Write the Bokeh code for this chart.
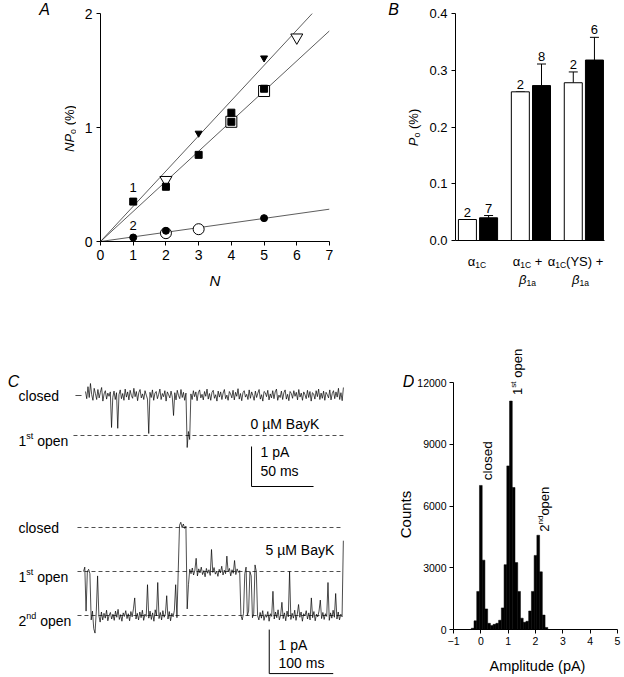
import math
from bokeh.plotting import figure
from bokeh.models import Label, Whisker, ColumnDataSource, TeeHead, PrintfTickFormatter
from bokeh.layouts import row, column
from bokeh.embed import file_html
from bokeh.resources import INLINE

FONT = "Liberation Sans"

# ---------------- Panel A data ----------------
sq_filled_n = [1, 2, 3, 4, 4, 5]
sq_filled_v = [0.35, 0.48, 0.76, 1.13, 1.05, 1.34]
sq_open_n = [4, 5]
sq_open_v = [1.05, 1.32]
tri_filled_n = [3, 5]
tri_filled_v = [0.95, 1.61]
tri_open_n = [2, 6]
tri_open_v = [0.54, 1.79]
circ_filled_n = [1, 2, 5]
circ_filled_v = [0.035, 0.094, 0.205]
circ_open_n = [2, 3]
circ_open_v = [0.073, 0.108]
fit_slope = [0.309, 0.264, 0.0405]
fit_nmax = [6.48, 7.0, 7.0]

# ---------------- Panel B data ----------------
groups = [0, 1, 2]
po_open = [0.037, 0.262, 0.278]
po_open_err = [0.037, 0.262, 0.297]
po_filled = [0.040, 0.273, 0.318]
po_filled_err = [0.044, 0.311, 0.358]
n_open = ["2", "2", "2"]
n_filled = ["7", "8", "6"]

# ---------------- Panel C data (pA, sampled) ----------------
top_dt_ms = 1.0
top_trace = [
    0.10, -0.08, 0.22, -0.05, 0.30, 0.02, -0.12, 0.18, 0.05, -0.10,
    0.15, -0.06, 0.08, 0.20, -0.14, 0.04, 0.12, -0.09, 0.06, -0.02,
    0.09, -0.80, -0.05, 0.11, -0.10, 0.07, -0.82, 0.02, 0.14, -0.08,
    0.05, -0.12, 0.16, -0.04, 0.09, -0.11, 0.13, 0.00, -0.07, 0.18,
    -0.03, 0.10, -0.13, 0.07, 0.15, -0.06, 0.04, -0.10, 0.12, 0.01,
    -0.09, -0.95, 0.08, -0.05, 0.14, -0.12, 0.06, 0.10, -0.08, 0.03,
    0.16, -0.10, 0.05, -0.03, 0.12, -0.14, 0.09, 0.02, -0.06, 0.11,
    -0.04, -0.50, 0.07, -0.11, 0.13, 0.00, -0.08, 0.15, -0.05, 0.08,
    -0.12, 0.06, -1.30, -0.90, -1.10, 0.04, -0.10, 0.12, -0.03, 0.09,
    -0.13, 0.07, 0.14, -0.06, 0.03, -0.11, 0.10, -0.02, 0.16, -0.09,
    0.05, -0.12, 0.08, 0.13, -0.07, 0.02, -0.14, 0.11, -0.04, 0.09,
    -0.10, 0.06, 0.15, -0.08, 0.01, -0.12, 0.10, 0.04, -0.06, 0.13,
    -0.11, 0.08, -0.02, 0.17, -0.09, 0.05, -0.13, 0.07, 0.12, -0.04,
    0.03, -0.10, 0.14, -0.07, 0.09, 0.00, -0.12, 0.11, -0.05, 0.06,
    0.15, -0.09, 0.02, -0.14, 0.10, 0.07, -0.03, 0.13, -0.11, 0.04,
    -0.06, 0.12, -0.08, 0.09, 0.16, -0.12, 0.01, -0.05, 0.11, -0.10,
    0.07, 0.14, -0.09, 0.03, -0.13, 0.10, 0.05, -0.07, 0.12, -0.02,
    0.08, -0.11, 0.15, -0.04, 0.06, -0.12, 0.09, 0.02, -0.08, 0.13,
    -0.05, 0.10, -0.14, 0.07, 0.04, -0.09, 0.12, -0.03, 0.16, -0.10,
    0.06, -0.07, 0.11, -0.12, 0.08, 0.02, -0.06, 0.14, -0.11, 0.05,
    0.12, -0.08, 0.09, -0.04, 0.18, -0.10, 0.07, -0.13, 0.20,
]
bot_dt_ms = 2.0
bot_trace = [
    -1.00, -0.90, -1.90, -1.00, -0.95, -1.05, -2.10, -1.90, -2.30, -2.40, -1.90, -1.10, -2.00, -2.15,
    -1.92, -2.10, -1.95, -2.06, -1.88, -2.12, -2.00, -1.93, -2.08, -1.97,
    -2.11, -1.90, -2.04, -1.86, -2.09, -1.98, -2.13, -1.94, -2.02, -1.89,
    -2.07, -1.96, -2.12, -1.91, -2.03, -1.85, -1.60, -2.08, -1.95, -2.10,
    -1.92, -2.05, -1.88, -2.11, -1.97, -2.02, -1.30, -2.06, -1.90, -2.09,
    -1.94, -2.13, -1.87, -2.01, -1.25, -2.07, -1.93, -2.10, -1.89, -2.04,
    -1.96, -1.55, -2.08, -1.91, -2.12, -1.95, -2.03, -1.88, -1.30, -2.05,
    -1.00, 0.05, 0.12, 0.00, 0.08, -0.02, 0.03, -1.85, -1.30, -0.95,
    -1.05, -0.92, -1.08, -0.97, -0.70, -1.10, -0.94, -1.03, -0.90, -1.07,
    -0.98, -1.12, -0.93, -1.04, -0.96, -1.09, -0.50, -1.02, -0.91, -1.06,
    -0.99, -1.11, -0.95, -1.03, -0.88, -1.08, -0.97, -1.05, -0.65, -1.01,
    -0.93, -1.10, -0.96, -1.04, -0.75, -1.07, -0.94, -1.02, -0.98,
    -2.00, -2.10, -1.95, -1.05, -0.90, -2.00, -1.90, -1.00, -1.10, -2.05, -1.95, -0.85, -1.00, -2.00, -2.10,
    -1.93, -2.06, -1.89, -2.11, -1.98, -2.04, -1.91, -2.13, -1.96, -2.02,
    -1.45, -2.08, -1.92, -2.05, -1.87, -2.10, -1.99, -1.70, -2.07, -1.94,
    -2.12, -1.90, -2.03, -1.00, -2.09, -1.95, -2.06, -1.88, -2.11, -1.97,
    -1.75, -2.04, -1.92, -2.13, -1.96, -2.01, -1.89, -2.08, -1.94, -2.10,
    -1.60, -2.05, -1.91, -2.12, -1.97, -2.03, -1.90, -1.65, -2.07, -1.93,
    -2.09, -1.96, -2.02, -1.25, -2.11, -1.94, -2.06, -1.88, -2.04, -1.50,
    -2.08, -1.92, -2.10, -1.97, -2.03, -0.30,
]
levels_pA = [0.0, -1.0, -2.0]

# ---------------- Panel D data ----------------
amp_bins = [-0.3, -0.2, -0.1, 0.0, 0.1, 0.2, 0.3, 0.4, 0.5, 0.6, 0.7, 0.8, 0.9, 1.0,
            1.1, 1.2, 1.3, 1.4, 1.5, 1.6, 1.7, 1.8, 1.9, 2.0, 2.1, 2.2, 2.3, 2.4]
counts = [60, 420, 1850, 7000, 3370, 1000, 300, 200, 250, 300, 450, 1050, 3150, 7950,
          11100, 6900, 3250, 1850, 550, 350, 400, 900, 1850, 3600, 4580, 2800, 700, 100]

# ---------------- helpers ----------------
W = {' ': .278, '(': .333, ')': .333, '%': .889, '+': .584, 'A': .667, 'B': .667, 'C': .722,
     'K': .667, 'M': .833, 'N': .722, 'P': .667, 'S': .667, 'Y': .667, 'a': .556, 'c': .5,
     'd': .556, 'e': .556, 'l': .222, 'n': .556, 'o': .556, 'p': .556, 's': .5, 't': .278,
     'y': .5, 'i': .222, 'm': .833, 'u': .556, 'α': .578, 'β': .575, 'µ': .556}


def tw(s, size):
    return sum(W.get(c, 0.556) for c in s) * size


def rich(p, x, y, parts, angle=0.0, align="left", x_off=0.0, y_off=0.0):
    total = sum(tw(t, s) for t, s, st, r in parts)
    adv = -total / 2 if align == "center" else 0.0
    ca, sa = math.cos(angle), math.sin(angle)
    for t, s, st, r in parts:
        stripped = t.lstrip(" ")
        adv += tw(t[:len(t) - len(stripped)], s)
        dx = adv * ca - r * sa
        dy = adv * sa + r * ca
        p.add_layout(Label(x=x, y=y, x_offset=x_off + dx, y_offset=y_off + dy, text=stripped,
                           text_font=FONT, text_font_size=f"{s}px", text_font_style=st,
                           angle=angle, text_align="left", text_baseline="alphabetic",
                           text_color="black"))
        adv += tw(stripped, s)


def lab(p, x, y, text, size=14, style="normal", align="left", baseline="middle", angle=0.0,
        x_off=0, y_off=0):
    p.add_layout(Label(x=x, y=y, text=text, text_font=FONT, text_font_size=f"{size}px",
                       text_font_style=style, text_align=align, text_baseline=baseline,
                       angle=angle, x_offset=x_off, y_offset=y_off, text_color="black"))


def style_axes(p, size, standoff=4):
    p.xgrid.visible = False
    p.ygrid.visible = False
    p.outline_line_color = None
    p.axis.axis_line_color = "black"
    p.axis.major_tick_line_color = "black"
    p.axis.minor_tick_line_color = None
    p.axis.major_tick_in = 0
    p.axis.major_tick_out = 4
    p.axis.major_label_text_font = FONT
    p.axis.major_label_text_font_size = size
    p.axis.major_label_text_color = "black"
    p.axis.major_label_standoff = standoff


def bare(p):
    p.xgrid.visible = False
    p.ygrid.visible = False
    p.outline_line_color = None


def tfig(x0, x1, y0, y1, bl=0, br=0):
    """A text-only strip whose frame spans page pixels x0..x1, y0..y1 (borders bl/br
    match the plot it is stacked with, since Bokeh aligns frames in a column)."""
    p = figure(width=x1 - x0 + bl + br, height=y1 - y0, x_range=(x0, x1), y_range=(y1, y0),
               output_backend="svg", toolbar_location=None, x_axis_location=None,
               y_axis_location=None, min_border_left=bl, min_border_right=br,
               min_border_top=0, min_border_bottom=0)
    bare(p)
    return p


HALF_PI = math.pi / 2

# ---------------- Panel A ----------------
pA = figure(width=284, height=268, x_range=(0, 7), y_range=(0, 2), output_backend="svg",
            toolbar_location=None, min_border_left=24, min_border_right=31,
            min_border_top=13, min_border_bottom=27)
style_axes(pA, "14px")
pA.xaxis.ticker = list(range(8))
pA.yaxis.ticker = [0, 1, 2]
for sl, nm in zip(fit_slope, fit_nmax):
    pA.line([0, nm], [0, sl * nm], line_color="#333333", line_width=0.8)
pA.scatter(sq_open_n, sq_open_v, marker="square", size=11, fill_color="white", line_color="black")
pA.scatter(tri_open_n, tri_open_v, marker="inverted_triangle", size=12, fill_color="white", line_color="black")
pA.scatter(circ_open_n, circ_open_v, marker="circle", size=11, fill_color="white", line_color="black")
pA.scatter(sq_filled_n, sq_filled_v, marker="square", size=7, fill_color="black", line_color="black")
pA.scatter(tri_filled_n, tri_filled_v, marker="inverted_triangle", size=7, fill_color="black", line_color="black")
pA.scatter(circ_filled_n, circ_filled_v, marker="circle", size=7, fill_color="black", line_color="black")
lab(pA, 1, 0.47, "1", size=13, align="center")
lab(pA, 1, 0.14, "2", size=13, align="center")

tA = tfig(0, 76, 0, 300)
lab(tA, 44, 9, "A", size=16, style="italic", align="center")
rich(tA, 69, 128, [("NP", 13, "italic", 0), ("o", 9, "normal", -3), (" (%)", 13, "normal", 0)],
     angle=HALF_PI, align="center")
tN = tfig(100, 329, 268, 300, bl=24, br=31)
lab(tN, 214.5, 280, "N", size=15, style="italic", align="center")

# ---------------- Panel B ----------------
pB = figure(width=199, height=249, x_range=(-0.425, 2.39), y_range=(0, 0.4), output_backend="svg",
            toolbar_location=None, min_border_left=30, min_border_right=20,
            min_border_top=13, min_border_bottom=9)
style_axes(pB, "13px")
pB.yaxis.ticker = [0.0, 0.1, 0.2, 0.3, 0.4]
pB.yaxis.formatter = PrintfTickFormatter(format="%.1f")
pB.xaxis.ticker = []
pB.xaxis.major_tick_line_color = None
xo = [g - 0.2 for g in groups]
xf = [g + 0.2 for g in groups]
pB.vbar(x=xo, top=po_open, width=0.34, fill_color="white", line_color="black", line_width=1)
pB.vbar(x=xf, top=po_filled, width=0.34, fill_color="black", line_color="black", line_width=1)
err_src = ColumnDataSource(dict(x=xo + xf, lo=po_open + po_filled, hi=po_open_err + po_filled_err))
pB.add_layout(Whisker(source=err_src, base="x", lower="lo", upper="hi", dimension="height",
                      line_color="black", line_width=1,
                      upper_head=TeeHead(size=9, line_color="black", line_width=1), lower_head=None))
for x, top, t in zip(xo + xf, po_open_err + po_filled_err, n_open + n_filled):
    lab(pB, x, top, t, size=13, align="center", baseline="bottom", y_off=3)

tB = tfig(360, 425, 0, 300)
lab(tB, 393, 9, "B", size=16, style="italic", align="center")
rich(tB, 413, 127, [("P", 13, "italic", 0), ("o", 9, "normal", -3), (" (%)", 13, "normal", 0)],
     angle=HALF_PI, align="center")
tBc = tfig(455, 604, 249, 300, bl=30, br=20)
rich(tBc, 476.5, 261, [("α", 13, "normal", 0), ("1C", 8.5, "normal", -3)], align="center")
rich(tBc, 527, 261, [("α", 13, "normal", 0), ("1C", 8.5, "normal", -3), (" +", 13, "normal", 0)], align="center")
rich(tBc, 527, 279, [("β", 13, "italic", 0), ("1a", 8.5, "normal", -3)], align="center")
rich(tBc, 575, 261, [("α", 13, "normal", 0), ("1C", 8.5, "normal", -3), ("(YS) +", 13, "normal", 0)], align="center")
rich(tBc, 580, 279, [("β", 13, "italic", 0), ("1a", 8.5, "normal", -3)], align="center")

# ---------------- Panel C (top) ----------------
pC1 = figure(width=376, height=200, x_range=(-68.55, 234.68), y_range=(-2.625, 2.375), output_backend="svg",
             toolbar_location=None, x_axis_location=None, y_axis_location=None,
             min_border_left=0, min_border_right=0, min_border_top=0, min_border_bottom=0)
bare(pC1)
t_top = [i * top_dt_ms for i in range(len(top_trace))]
pC1.line([-8.1, -3.2], [levels_pA[0], levels_pA[0]], line_color="#222222", line_width=0.8)
pC1.line([-9.7, t_top[-1]], [levels_pA[1], levels_pA[1]], line_color="#222222", line_width=0.8, line_dash="4 3")
pC1.line(t_top, top_trace, line_color="black", line_width=0.7)
pC1.line([133.9, 133.9, 183.9], [-1.275, -2.275, -2.275], line_color="black", line_width=1)
lab(pC1, -54, 0, "closed", size=14)
rich(pC1, -54, -1, [("1", 14, "normal", 0), ("st", 9, "normal", 5), (" open", 14, "normal", 0)], y_off=-5)
lab(pC1, 133.1, -0.7, "0 µM BayK", size=14)
lab(pC1, 141.1, -1.42, "1 pA", size=14)
lab(pC1, 141.1, -1.875, "50 ms", size=14)
lab(pC1, -58.1, 0.35, "C", size=16, style="italic", align="center")

# ---------------- Panel C (bottom) ----------------
pC2 = figure(width=376, height=177, x_range=(-129.7, 457.8), y_range=(-3.409, 0.614), output_backend="svg",
             toolbar_location=None, x_axis_location=None, y_axis_location=None,
             min_border_left=0, min_border_right=0, min_border_top=0, min_border_bottom=0)
bare(pC2)
t_bot = [i * bot_dt_ms for i in range(len(bot_trace))]
for lv in levels_pA:
    pC2.line([-9.4, t_bot[-1]], [lv, lv], line_color="#222222", line_width=0.8, line_dash="4 3")
pC2.line(t_bot, bot_trace, line_color="black", line_width=0.7)
pC2.line([290.2, 290.2, 390.2], [-2.32, -3.32, -3.32], line_color="black", line_width=1)
lab(pC2, -101.6, 0, "closed", size=14)
rich(pC2, -101.6, -1, [("1", 14, "normal", 0), ("st", 9, "normal", 5), (" open", 14, "normal", 0)], y_off=-5)
rich(pC2, -101.6, -2, [("2", 14, "normal", 0), ("nd", 9, "normal", 5), (" open", 14, "normal", 0)], y_off=-5)
lab(pC2, 284.4, -0.5, "5 µM BayK", size=14)
lab(pC2, 304.7, -2.68, "1 pA", size=14)
lab(pC2, 304.7, -3.09, "100 ms", size=14)

# ---------------- Panel D ----------------
pD = figure(width=210, height=353, x_range=(-1, 5), y_range=(0, 15500), output_backend="svg",
            toolbar_location=None, min_border_left=39, min_border_right=7,
            min_border_top=10, min_border_bottom=24)
style_axes(pD, "10.5px", standoff=3)
pD.xaxis.ticker = [-1, 0, 1, 2, 3, 4, 5]
pD.yaxis.ticker = [0, 3000, 6000, 9000, 12000]
pD.yaxis.bounds = (0, 12000)
pD.vbar(x=amp_bins, top=counts, width=0.1, fill_color="black", line_color="black", line_width=0.5)
rich(pD, 0.24, 7250, [("closed", 13.5, "normal", 0)], angle=HALF_PI)
rich(pD, 1.35, 11400, [("1", 13, "normal", 0), ("st", 8, "normal", 4.5), (" open", 13, "normal", 0)],
     angle=HALF_PI)
rich(pD, 2.34, 4750, [("2", 13, "normal", 0), ("nd", 8, "normal", 4.5), ("open", 13, "normal", 0)],
     angle=HALF_PI)

tD = tfig(376, 414, 300, 677)
lab(tD, 408, 381, "D", size=16, style="italic", align="center")
rich(tD, 405, 514, [("Counts", 15, "normal", 0)], angle=HALF_PI, align="center")
tAmp = tfig(453, 617, 653, 677, bl=39, br=7)
lab(tAmp, 537, 665, "Amplitude (pA)", size=14.5, align="center")

row1 = row(tA, column(pA, tN), tB, column(pB, tBc))
row2 = row(column(pC1, pC2), tD, column(pD, tAmp))
layout = column(row1, row2)
open("out.html", "w").write(file_html(layout, INLINE))
